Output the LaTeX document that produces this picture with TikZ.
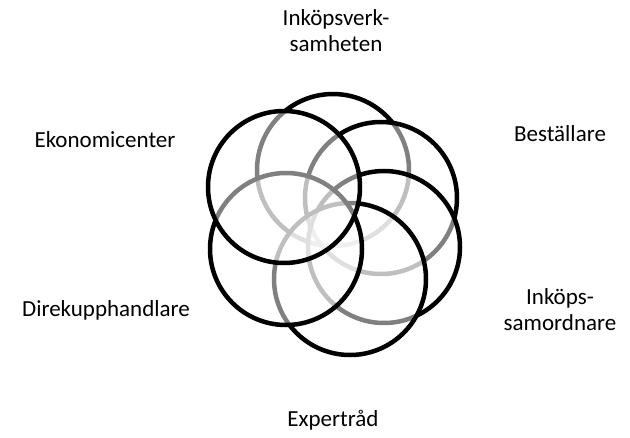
\documentclass[tikz,border=0pt]{standalone}
\usepackage{fontspec}
\setmainfont{Carlito}
\usetikzlibrary{positioning}

\begin{document}
\begin{tikzpicture}[x=1pt, y=-1pt,
  every node/.style={font=\fontsize{23}{26}\selectfont},
  ring/.style={circle, draw=black, fill=white, fill opacity=0.5,
               draw opacity=1, line width=4.5pt, minimum size=152pt,
               inner sep=0pt},
  lbl/.style={align=center, inner sep=0pt},
]
\useasboundingbox (0,0) rectangle (630,437);

% six overlapping rings, drawn in turn so each veils the one before
\node[ring] (inkop) at (333,170) {};
\node[ring] (best)  at (381,198) {};
\node[ring] (samo)  at (384,247) {};
\node[ring] (exp)   at (350,279) {};
\node[ring] (dir)   at (286,249) {};
\node[ring] (eko)   at (284,187) {};

% labels round the flower
\node[lbl] (Linkop) at (336,31)  {Inköpsverk-\\samheten};
\node[lbl] (Lbest)  at (560,134) {Beställare};
\node[lbl] (Lsamo)  at (560,310) {Inköps-\\samordnare};
\node[lbl] (Lexp)   at (333,420) {Expertråd};
\node[lbl] (Ldir)   at (106,310) {Direkupphandlare};
\node[lbl] (Leko)   at (105,140) {Ekonomicenter};

\end{tikzpicture}
\end{document}
